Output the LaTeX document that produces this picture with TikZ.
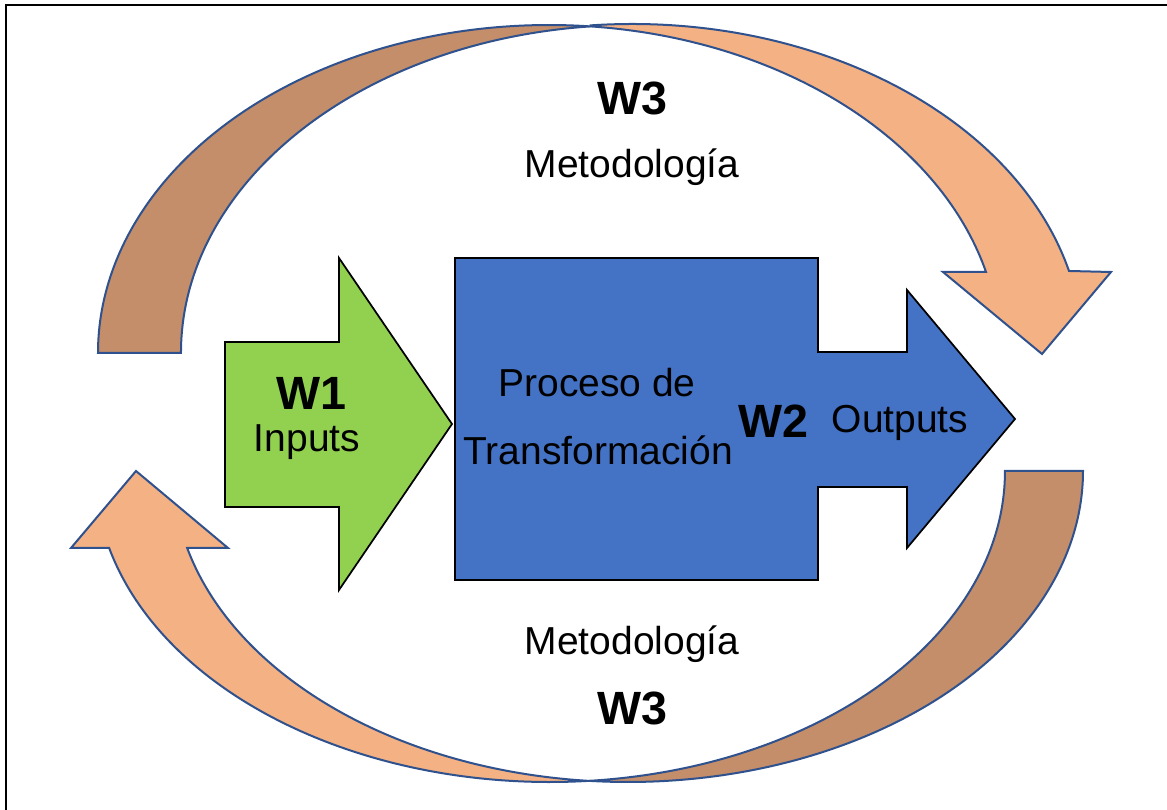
\documentclass[tikz,border=0pt]{standalone}
\usepackage{fontspec}
\setmainfont{Liberation Sans}
\definecolor{frontfill}{HTML}{F4B183}
\definecolor{backfill}{HTML}{C38E69}
\definecolor{bandline}{HTML}{2F528F}
\definecolor{inputgreen}{HTML}{92D050}
\definecolor{processblue}{HTML}{4472C4}
\begin{document}
\begin{tikzpicture}[x=0.75pt,y=0.75pt,
  band/.style={draw=bandline, line width=1.5pt, line join=miter},
  blockarrow/.style={draw=black, line width=1.3pt, line join=miter},
  lbl/.style={anchor=base, inner sep=0pt, font=\fontsize{29.25}{35}\selectfont},
  wlbl/.style={anchor=base, inner sep=0pt, font=\fontsize{35}{42}\selectfont\bfseries}]
\useasboundingbox (0,0) rectangle (1167,810);

% outer frame
\draw[line width=1.5pt] (6,0) -- (6,805) -- (1167,805);

% upper curved arrow: two equal ellipses (radii 451 x 328), centres x=549 and x=632
% back part (left leg)
\path[band, fill=backfill] (98,457)
  arc[start angle=180, end angle=84.72, x radius=451, y radius=328]
  arc[start angle=95.28, end angle=180, x radius=451, y radius=328] -- cycle;
% front part with head
\path[band, fill=frontfill] (590.5,784.6)
  arc[start angle=95.28, end angle=14.3, x radius=451, y radius=328]
  -- (1111,538) -- (1042,456) -- (943,538) -- (986,538)
  arc[start angle=14.3, end angle=84.72, x radius=451, y radius=328] -- cycle;

% lower curved arrow: two equal ellipses (radii 455 x 311), centres x=628 and x=550
% back part (right leg)
\path[band, fill=backfill] (1083,339)
  arc[start angle=0, end angle=-94.92, x radius=455, y radius=311]
  arc[start angle=-85.08, end angle=0, x radius=455, y radius=311] -- cycle;
% front part with head
\path[band, fill=frontfill] (589,29.15)
  arc[start angle=-85.08, end angle=-165.67, x radius=455, y radius=311]
  -- (71,262) -- (136,339) -- (228,262) -- (187.2,262)
  arc[start angle=-165.67, end angle=-94.92, x radius=455, y radius=311] -- cycle;

% inputs arrow
\path[blockarrow, fill=inputgreen]
  (225,468) -- (339,468) -- (339,552) -- (452,386) -- (339,220)
  -- (339,303) -- (225,303) -- cycle;

% transformation block with outputs arrow
\path[blockarrow, fill=processblue]
  (455,552) -- (818,552) -- (818,458) -- (907,458) -- (907,520)
  -- (1015,391) -- (907,262) -- (907,323) -- (818,323) -- (818,230)
  -- (455,230) -- cycle;

% labels
\node[wlbl] (w3top) at (632,695) {W3};
\node[lbl] (mettop) at (632,632) {Metodología};
\node[wlbl] (w1) at (311,400) {W1};
\node[lbl] (inputs) at (307,358) {Inputs};
\node[lbl] (proc) at (597,413) {Proceso de};
\node[lbl] (transf) at (598,345) {Transformación};
\node[wlbl] (w2) at (773,372) {W2};
\node[lbl] (outputs) at (900,377) {Outputs};
\node[lbl] (metbot) at (632,155) {Metodología};
\node[wlbl] (w3bot) at (632,85) {W3};
\end{tikzpicture}
\end{document}
